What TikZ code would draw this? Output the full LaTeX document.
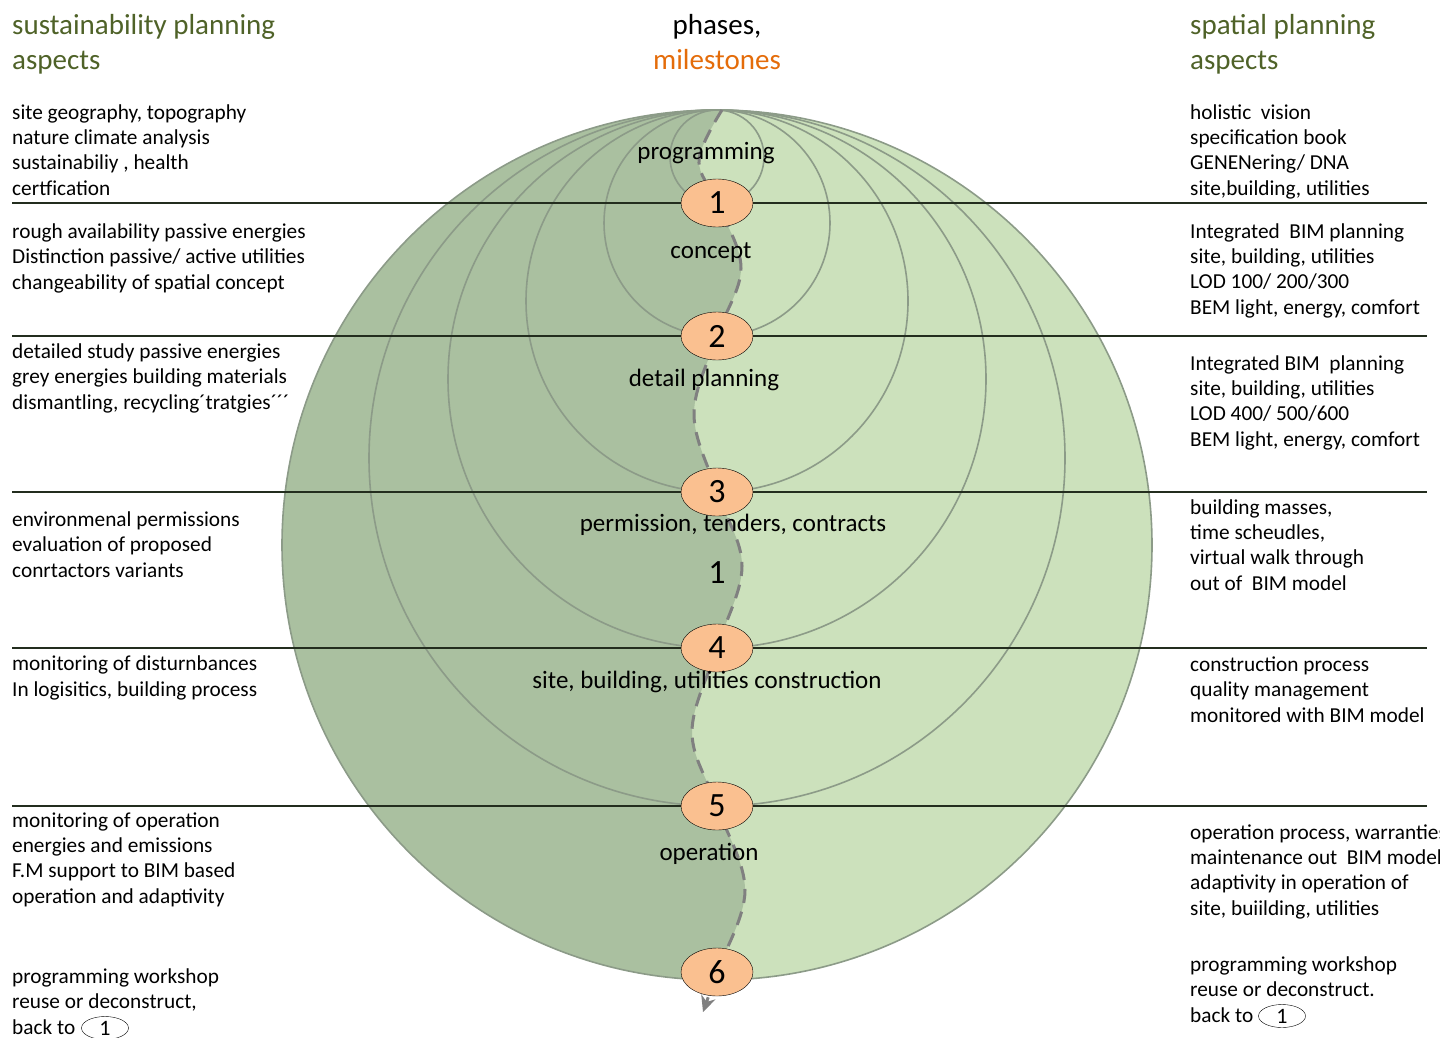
\documentclass[tikz,border=0pt]{standalone}
\usepackage{fontspec}
\setmainfont{Carlito}
\usetikzlibrary{shapes.geometric, arrows.meta, positioning}

\definecolor{leafdark}{RGB}{170,192,160}
\definecolor{leaflight}{RGB}{204,225,188}
\definecolor{ringgray}{RGB}{140,155,136}
\definecolor{headgreen}{RGB}{79,98,40}
\definecolor{mileorange}{RGB}{228,108,10}
\definecolor{milefill}{RGB}{250,192,144}
\definecolor{rulecol}{RGB}{35,45,30}

% text blocks are placed by the baseline of their last line
\tikzset{
    base/.style = {inner sep=0pt, align=left, text=black},
    % Texts
    heading/.style = {base, anchor=base west, text=headgreen, font=\fontsize{29}{35}\selectfont},
    aspect/.style  = {base, anchor=base west, font=\fontsize{21.3}{25.3}\selectfont},
    phase/.style   = {base, anchor=base, font=\fontsize{25}{30}\selectfont},
    % Milestones
    milestone/.style = {ellipse, draw=black, thin, fill=milefill, minimum width=72pt, minimum height=48pt,
                        inner sep=0pt, font=\fontsize{34}{36}\selectfont},
    backref/.style   = {ellipse, draw=black, thin, minimum width=47pt, minimum height=23pt,
                        inner sep=0pt, font=\fontsize{22}{24}\selectfont},
    % Lines
    ring/.style    = {draw=ringgray, line width=1.6pt},
    divider/.style = {draw=rulecol, line width=2pt},
    flow/.style    = {draw=gray, line width=3pt, dash pattern=on 14pt off 9pt,
                      -{Stealth[length=16pt, width=15pt]}}
}

% the winding line from the first to the last milestone
\newcommand{\phaseline}{plot[smooth, tension=0.6] coordinates
    {(top) (b0) (c1) (b1) (c2) (b2) (c3) (b3) (c4) (b4) (c5) (b5) (c6) (tip)}}

\begin{document}
\begin{tikzpicture}[x=1pt, y=-1pt]
    \useasboundingbox (0,0) rectangle (1440,1037);

    % milestone centres and the bends between them
    \coordinate (top) at (722,110);
    \coordinate (b0)  at (699,160);
    \coordinate (c1)  at (717,203);
    \coordinate (b1)  at (741,268);
    \coordinate (c2)  at (717,336);
    \coordinate (b2)  at (694,414);
    \coordinate (c3)  at (717,492);
    \coordinate (b3)  at (742,566);
    \coordinate (c4)  at (717,648);
    \coordinate (b4)  at (692,732);
    \coordinate (c5)  at (717,806);
    \coordinate (b5)  at (745,890);
    \coordinate (c6)  at (717,972);
    \coordinate (tip) at (703,1012);

    % globe, darker on the left of the phase line
    \fill[leaflight] (717,545) circle[radius=435];
    \begin{scope}
        \clip (717,545) circle[radius=435];
        \fill[leafdark] \phaseline -- (0,1037) -- (0,0) -- cycle;
    \end{scope}
    \foreach \r in {47,113,191,269,348,435}
        \draw[ring] (717,110+\r) circle[radius=\r];

    \foreach \y in {203,336,492,648,806}
        \draw[divider] (12,\y) -- (1427,\y);

    \draw[flow] \phaseline;

    \foreach \i in {1,...,6}
        \node[milestone] (m\i) at (c\i) {\i};

    % phases
    \node[phase] (programming) at (706,159) {programming};
    \node[phase] (concept)     at (711,258) {concept};
    \node[phase] (detail)      at (704,386) {detail planning};
    \node[phase] (permission)  at (733,531) {permission, tenders, contracts};
    \node[phase, font=\fontsize{34}{36}\selectfont] (cycle) at (717,583) {1};
    \node[phase] (construction) at (707,688) {site, building, utilities construction};
    \node[phase] (operation)   at (709,860) {operation};

    % headings
    \node[heading] (susthead) at (12,69) {sustainability planning\\aspects};
    \node[heading, anchor=base, align=center, text=black] (phasehead) at (717,69)
        {phases,\\\textcolor{mileorange}{milestones}};
    \node[heading] (spathead) at (1190,69) {spatial planning\\aspects};

    % sustainability planning aspects
    \node[aspect] (sust1) at (12,195) {site geography, topography\\nature climate analysis\\sustainabiliy , health\\certfication};
    \node[aspect] (sust2) at (12,289) {rough availability passive energies\\Distinction passive/ active utilities\\changeability of spatial concept};
    \node[aspect] (sust3) at (12,409) {detailed study passive energies\\grey energies building materials\\dismantling, recycling´tratgies´´´};
    \node[aspect] (sust4) at (12,577) {environmenal permissions\\evaluation of proposed\\conrtactors variants};
    \node[aspect] (sust5) at (12,696) {monitoring of disturnbances\\In logisitics, building process};
    \node[aspect] (sust6) at (12,903) {monitoring of operation\\energies and emissions\\F.M support to BIM based\\operation and adaptivity};
    \node[aspect] (sust7) at (12,1034) {programming workshop\\reuse or deconstruct,\\back to};
    \node[backref] (sustback) at (105,1028) {1};

    % spatial planning aspects
    \node[aspect] (spat1) at (1190,195) {holistic\ \ vision\\specification book\\GENENering/ DNA\\site,building, utilities};
    \node[aspect] (spat2) at (1190,314) {Integrated\ \ BIM planning\\site, building, utilities\\LOD 100/ 200/300\\BEM light, energy, comfort};
    \node[aspect] (spat3) at (1190,446) {Integrated BIM\ \ planning\\site, building, utilities\\LOD 400/ 500/600\\BEM light, energy, comfort};
    \node[aspect] (spat4) at (1190,590) {building masses,\\time scheudles,\\virtual walk through\\out of\ \ BIM model};
    \node[aspect] (spat5) at (1190,722) {construction process\\quality management\\monitored with BIM model};
    \node[aspect] (spat6) at (1190,915) {operation process, warranties\\maintenance out\ \ BIM model\\adaptivity in operation of\\site, buiilding, utilities};
    \node[aspect] (spat7) at (1190,1022) {programming workshop\\reuse or deconstruct.\\back to};
    \node[backref] (spatback) at (1282,1016) {1};
\end{tikzpicture}
\end{document}
